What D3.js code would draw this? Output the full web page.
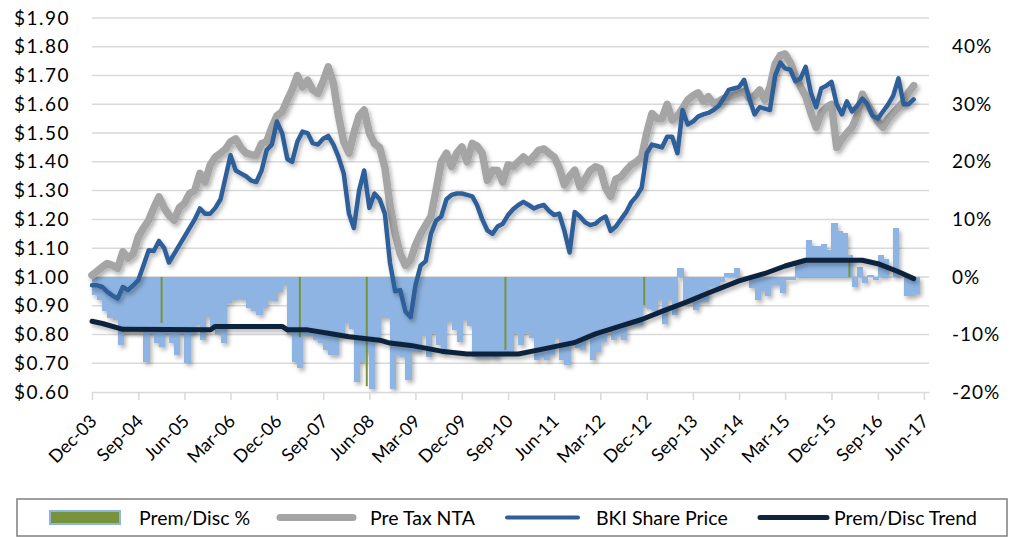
<!DOCTYPE html>
<html>
<head>
<meta charset="utf-8">
<script src="https://cdn.jsdelivr.net/npm/d3@7"></script>
<style>
body { margin: 0; background: #fff; }
svg text { font-family: Lato, "Open Sans", sans-serif; fill: #000; }
</style>
</head>
<body>
<svg id="chart" width="1024" height="537"></svg>
<script>
// monthly values, first one is Dec-03
var premDisc = [
  -3.1, -4.0, -6.0, -7.2, -7.5, -11.8, -9.5, -9.5, -9.5, -9.5,
  -14.7, -10, -11.5, -12.1, -10, -11.5, -13.6, -10, -15, -9.9,
  -8.3, -10.9, -6.9, -8.6, -10, -11.4, -4.6, -4.0, -3.8, -4.0,
  -5.4, -6.0, -6.6, -5.4, -4.0, -4.2, -2.6, -1.4, -10, -14.7,
  -15.8, -10.3, -10.3, -11.0, -11.5, -12.7, -13.6, -13.6, -10.3, -8.0,
  -9.0, -18.2, -14.7, -13.0, -19.4, -10.9, -7.2, -7.2, -19.4, -13.6,
  -13.9, -17.9, -13, -13, -10.1, -13.9, -9.8, -11.8, -13, -7.8,
  -9.2, -11.3, -7.5, -8.6, -13.9, -14.1, -14.1, -13.9, -14.1, -13.3,
  -13.0, -13, -9.8, -11.8, -9.8, -10.7, -14.4, -13.9, -14.4, -13.6,
  -10.7, -14.4, -15.3, -11.5, -12.4, -12.7, -10.7, -14.4, -13, -11.3,
  -9.5, -10.9, -10.1, -10.9, -8.6, -8.3, -8.3, -5.1, -5.6, -6.0,
  -4, -8.1, -4, -6.6, 1.5, -4.3, -4.3, -5.7, -4.3, -4.3,
  -1.7, -1.7, -0.8, 0.6, 0.6, 1.5, 0, 0, -2, -4,
  -2.5, -3.4, -1.4, -1.4, -2.8, -0.5, -0.5, 2.4, 2.4, 6.4,
  5.3, 5.3, 5.8, 4.7, 9.3, 7.9, 7.6, 3.8, -1.7, 1.8,
  -1.1, 0.3, -0.5, 3.8, 3.2, 0, 8.5, 0, -3.4, -3.4,
  -3.0
]

var ntaValues = [
  1.006, 1.02, 1.035, 1.047, 1.04, 1.03, 1.087, 1.065, 1.08, 1.14,
  1.17, 1.197, 1.24, 1.278, 1.24, 1.215, 1.197, 1.24, 1.256, 1.29,
  1.30, 1.36, 1.33, 1.39, 1.417, 1.43, 1.445, 1.47, 1.48, 1.45,
  1.43, 1.425, 1.423, 1.464, 1.47, 1.52, 1.56, 1.574, 1.615, 1.65,
  1.70, 1.66, 1.684, 1.65, 1.638, 1.68, 1.73, 1.673, 1.56, 1.47,
  1.43, 1.50, 1.56, 1.58, 1.50, 1.464, 1.45, 1.38, 1.25, 1.15,
  1.08, 1.04, 1.06, 1.11, 1.15, 1.18, 1.21, 1.30, 1.40, 1.43,
  1.383, 1.43, 1.452, 1.40, 1.464, 1.455, 1.43, 1.336, 1.371, 1.37,
  1.33, 1.39, 1.383, 1.40, 1.417, 1.40, 1.42, 1.44, 1.445, 1.43,
  1.417, 1.38, 1.32, 1.35, 1.371, 1.313, 1.34, 1.37, 1.383, 1.376,
  1.31, 1.28, 1.34, 1.348, 1.37, 1.39, 1.40, 1.417, 1.50, 1.568,
  1.55, 1.55, 1.60, 1.545, 1.56, 1.585, 1.615, 1.63, 1.64, 1.61,
  1.626, 1.603, 1.61, 1.62, 1.626, 1.632, 1.638, 1.645, 1.62, 1.63,
  1.65, 1.615, 1.66, 1.74, 1.77, 1.775, 1.745, 1.70, 1.66, 1.628,
  1.57, 1.52, 1.57, 1.59, 1.60, 1.45, 1.48, 1.50, 1.52, 1.56,
  1.635, 1.60, 1.57, 1.54, 1.52, 1.55, 1.57, 1.59, 1.61, 1.64,
  1.665
]

var priceValues = [
  0.971, 0.971, 0.965, 0.948, 0.935, 0.925, 0.965, 0.954, 0.97, 0.989,
  1.04, 1.093, 1.09, 1.125, 1.10, 1.05, 1.08, 1.11, 1.14, 1.17,
  1.20, 1.238, 1.22, 1.22, 1.24, 1.27, 1.35, 1.423, 1.37, 1.36,
  1.35, 1.335, 1.33, 1.37, 1.44, 1.46, 1.54, 1.50, 1.41, 1.40,
  1.47, 1.505, 1.50, 1.465, 1.46, 1.48, 1.49, 1.46, 1.417, 1.36,
  1.22, 1.17, 1.30, 1.37, 1.24, 1.29, 1.27, 1.22, 1.05, 0.95,
  0.954, 0.88, 0.86, 0.97, 1.04, 1.055, 1.15, 1.195, 1.21, 1.27,
  1.285, 1.29, 1.29, 1.285, 1.28, 1.25, 1.20, 1.162, 1.15, 1.175,
  1.185, 1.215, 1.235, 1.25, 1.261, 1.25, 1.238, 1.245, 1.25, 1.23,
  1.215, 1.22, 1.16, 1.085, 1.226, 1.21, 1.19, 1.18, 1.185, 1.20,
  1.21, 1.16, 1.175, 1.20, 1.225, 1.26, 1.28, 1.31, 1.43, 1.46,
  1.455, 1.45, 1.487, 1.487, 1.43, 1.58, 1.53, 1.54, 1.557, 1.565,
  1.57, 1.58, 1.595, 1.62, 1.65, 1.655, 1.66, 1.685, 1.62, 1.565,
  1.59, 1.585, 1.58, 1.70, 1.745, 1.725, 1.72, 1.68, 1.69, 1.73,
  1.64, 1.59, 1.655, 1.665, 1.678, 1.60, 1.565, 1.61, 1.575, 1.595,
  1.62, 1.60, 1.56, 1.55, 1.575, 1.60, 1.63, 1.69, 1.60, 1.60,
  1.617
]

// trend line, read at its bends (month index from Dec-03, %)
var trendMonths = [0, 2, 6, 23, 24, 37, 38, 42, 46, 50, 56, 58, 62, 68, 73, 83, 88, 94, 98, 103, 107, 111, 116, 120, 126, 131, 135, 139, 150, 153, 157, 160]
var trendValues = [-7.7, -8.1, -9.1, -9.2, -8.6, -8.6, -9.2, -9.2, -9.8, -10.4, -11.0, -11.5, -11.9, -12.9, -13.4, -13.4, -12.5, -11.4, -9.9, -8.5, -7.4, -6.0, -4.3, -2.8, -0.7, 0.6, 1.9, 2.9, 2.9, 2.3, 0.9, -0.3]

// the few columns that show their green fill
var greenMonths = [13, 40, 53, 80, 107, 147]
var greenValues = [-8.0, -10.5, -19.0, -12.7, -4.9, 2.6]

var leftTicks = [0.6, 0.7, 0.8, 0.9, 1.0, 1.1, 1.2, 1.3, 1.4, 1.5, 1.6, 1.7, 1.8, 1.9]
var rightTicks = [-20, -10, 0, 10, 20, 30, 40]
var xTickLabels = ["Dec-03", "Sep-04", "Jun-05", "Mar-06", "Dec-06", "Sep-07", "Jun-08", "Mar-09", "Dec-09", "Sep-10",
  "Jun-11", "Mar-12", "Dec-12", "Sep-13", "Jun-14", "Mar-15", "Dec-15", "Sep-16", "Jun-17"]
var legendNames = ["Prem/Disc %", "Pre Tax NTA", "BKI Share Price", "Prem/Disc Trend"]

var svg = d3.select("#chart")
var parseLabel = d3.timeParse("%b-%y")
var start = parseLabel("Dec-03")
var months = d3.range(premDisc.length + 1).map(function(i) { return d3.timeMonth.offset(start, i) })

var x = d3.scaleTime().domain([start, parseLabel("Jul-17")]).range([92, 929])
var yL = d3.scaleLinear().domain([0.6, 1.9]).range([392, 18])
var yR = d3.scaleLinear().domain([-20, 45]).range([392, 18])

// soft excel-ish shadow
var defs = svg.append("defs")
var f = defs.append("filter").attr("id", "shadow").attr("x", "-5%").attr("y", "-5%").attr("width", "110%").attr("height", "120%")
f.append("feDropShadow").attr("dx", 2).attr("dy", 3).attr("stdDeviation", 2)
  .attr("flood-color", "#000").attr("flood-opacity", 0.3)

// gridlines
svg.append("g").selectAll("line")
  .data(leftTicks.slice(1))
  .enter().append("line")
  .attr("x1", 92).attr("x2", 929)
  .attr("y1", function(d) { return yL(d) })
  .attr("y2", function(d) { return yL(d) })
  .attr("stroke", "#D9D9D9").attr("stroke-width", 1.5)

// prem/disc columns
var bars = svg.append("g").attr("filter", "url(#shadow)").attr("shape-rendering", "crispEdges")
bars.selectAll("rect")
  .data(premDisc)
  .enter().append("rect")
  .attr("x", function(d, i) { return x(months[i]) })
  .attr("width", function(d, i) { return x(months[i + 1]) - x(months[i]) + 1 })
  .attr("y", function(d) { return Math.min(yR(0), yR(d)) })
  .attr("height", function(d) { return Math.abs(yR(d) - yR(0)) })
  .attr("fill", "#8DB4E2")

svg.append("g").selectAll("rect")
  .data(greenMonths)
  .enter().append("rect")
  .attr("x", function(d) { return (x(months[d]) + x(months[d + 1])) / 2 - 1 })
  .attr("width", 2)
  .attr("y", function(d, i) { return Math.min(yR(0), yR(greenValues[i])) })
  .attr("height", function(d, i) { return Math.abs(yR(greenValues[i]) - yR(0)) })
  .attr("fill", "#77933C")

// x axis
var xAxis = d3.axisBottom(x)
  .tickValues(xTickLabels.map(parseLabel))
  .tickSize(8).tickSizeOuter(0)
  .tickFormat(d3.timeFormat("%b-%y"))

var gx = svg.append("g").attr("transform", "translate(0,392)").call(xAxis)
gx.select(".domain").attr("stroke", "#D9D9D9").attr("stroke-width", 1.5)
gx.selectAll(".tick line").attr("stroke", "#D9D9D9").attr("stroke-width", 1.5)
gx.selectAll(".tick text")
  .attr("y", 0).attr("dy", "0.35em")
  .attr("transform", "translate(1,26) rotate(-45)")
  .attr("text-anchor", "end")
  .style("font-size", "18px")

// left axis
var gl = svg.append("g").attr("transform", "translate(70,0)")
  .call(d3.axisLeft(yL).tickValues(leftTicks).tickSize(0).tickPadding(0)
    .tickFormat(function(d) { return "$" + d.toFixed(2) }))
gl.select(".domain").remove()
gl.selectAll("text").style("font-size", "19px").style("letter-spacing", "1.5px")

// right axis
var gr = svg.append("g").attr("transform", "translate(952,0)")
  .call(d3.axisRight(yR).tickValues(rightTicks).tickSize(0).tickPadding(0)
    .tickFormat(function(d) { return d + "%" }))
gr.select(".domain").remove()
gr.selectAll("text").style("font-size", "19px").style("letter-spacing", "1px")

// lines
var ntaLine = d3.line()
  .x(function(d, i) { return x(months[i]) })
  .y(function(d) { return yL(d) })

svg.append("path")
  .datum(ntaValues)
  .attr("d", ntaLine)
  .attr("fill", "none").attr("stroke", "#A5A5A5").attr("stroke-width", 7.5)
  .attr("stroke-linejoin", "round").attr("stroke-linecap", "round")
  .attr("filter", "url(#shadow)")

svg.append("path")
  .datum(priceValues)
  .attr("d", ntaLine)
  .attr("fill", "none").attr("stroke", "#2F5F98").attr("stroke-width", 4.5)
  .attr("stroke-linejoin", "round").attr("stroke-linecap", "round")
  .attr("filter", "url(#shadow)")

var trendLine = d3.line()
  .x(function(d) { return x(months[d]) })
  .y(function(d, i) { return yR(trendValues[i]) })

svg.append("path")
  .datum(trendMonths)
  .attr("d", trendLine)
  .attr("fill", "none").attr("stroke", "#0F243E").attr("stroke-width", 5)
  .attr("stroke-linejoin", "round").attr("stroke-linecap", "round")
  .attr("filter", "url(#shadow)")

// legend
var legend = svg.append("g")
legend.append("rect")
  .attr("x", 17).attr("y", 499).attr("width", 990).attr("height", 37)
  .attr("fill", "#fff").attr("stroke", "#7F7F7F").attr("stroke-width", 1.5)

var legendX = [50, 280, 507, 760]
var legendTextX = [139, 370, 596, 834]
legend.append("rect")
  .attr("x", legendX[0]).attr("y", 511).attr("width", 70).attr("height", 13)
  .attr("fill", "#77933C").attr("stroke", "#8DB4E2").attr("stroke-width", 2)
legend.append("line")
  .attr("x1", legendX[1]).attr("x2", legendX[1] + 73).attr("y1", 517.5).attr("y2", 517.5)
  .attr("stroke", "#A5A5A5").attr("stroke-width", 7).attr("stroke-linecap", "round")
legend.append("line")
  .attr("x1", legendX[2]).attr("x2", legendX[2] + 71).attr("y1", 517.5).attr("y2", 517.5)
  .attr("stroke", "#2F5F98").attr("stroke-width", 4).attr("stroke-linecap", "round")
legend.append("line")
  .attr("x1", legendX[3]).attr("x2", legendX[3] + 67).attr("y1", 517.5).attr("y2", 517.5)
  .attr("stroke", "#0F243E").attr("stroke-width", 5).attr("stroke-linecap", "round")

legend.selectAll("text")
  .data(legendNames)
  .enter().append("text")
  .attr("x", function(d, i) { return legendTextX[i] })
  .attr("y", 518).attr("dy", "0.35em")
  .style("font-size", "19.5px")
  .text(function(d) { return d })
</script>
</body>
</html>
